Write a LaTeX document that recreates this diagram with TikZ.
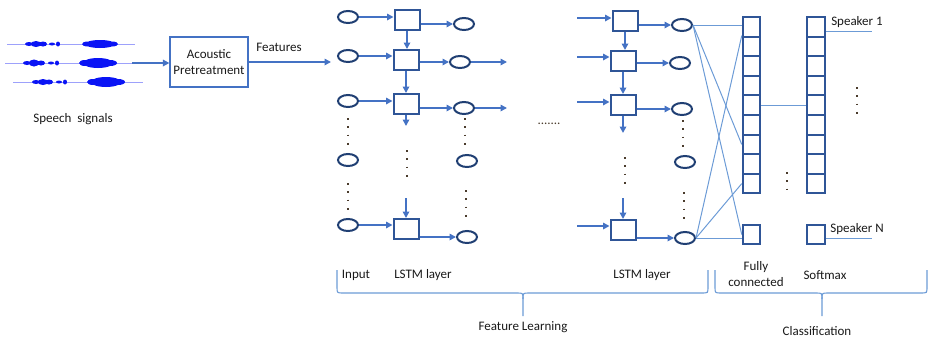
\documentclass[tikz,border=0pt]{standalone}
\usepackage{fontspec}
\setmainfont{Carlito}
\usepackage{tikz}
\usetikzlibrary{arrows.meta, shapes.geometric}

\definecolor{arrowblue}{HTML}{4472C4}
\definecolor{boxblue}{HTML}{2F5597}
\definecolor{ovalblue}{HTML}{203F73}
\definecolor{lineblue}{HTML}{6C9BD6}
\definecolor{wave}{HTML}{0A14F5}
\definecolor{dotbrown}{HTML}{4A3B2C}

\begin{document}
\begin{tikzpicture}[x=1pt, y=-1pt, font=\fontsize{13}{15.5}\selectfont, text=black!90,
        cell/.style={draw=boxblue, line width=2pt, minimum width=25pt, minimum height=20pt, inner sep=0pt},
        oval/.style={ellipse, draw=ovalblue, line width=2pt, minimum width=20pt, minimum height=12pt, inner sep=0pt},
        fc/.style={draw=boxblue, line width=2pt, minimum width=17.5pt, minimum height=19.6pt, inner sep=0pt},
        flow/.style={-{Triangle[length=6.5pt,width=6.5pt]}, arrowblue, line width=1.6pt},
        thinlink/.style={lineblue, line width=1pt},
        vdots/.style={dotbrown, line width=1.8pt, dash pattern=on 1.8pt off 6.5pt},
        bracket/.style={lineblue, line width=1.1pt}]
        \useasboundingbox (0,0) rectangle (929,338);

        \draw[wave!40, line width=0.8pt] (7,44) -- (135,44);
        \fill[wave] (29,44) ellipse (4 and 2) (36,44) ellipse (5 and 3) (43,44) ellipse (4 and 2.5);
        \fill[wave] (52,44) ellipse (3 and 1.5) (58,44) ellipse (2 and 2.5);
        \fill[wave] (100,44) ellipse (15 and 4) (88,44) ellipse (6 and 2.5) (112,44) ellipse (6 and 2.5);
        \draw[wave!40, line width=0.8pt] (5,63) -- (132,63);
        \fill[wave] (27,63) ellipse (4 and 2) (34,63) ellipse (5 and 3.5) (41,63) ellipse (4 and 2.5);
        \fill[wave] (51,63) ellipse (3 and 1.5) (57,63) ellipse (2 and 2.5);
        \fill[wave] (98,63) ellipse (15 and 5) (85,63) ellipse (6 and 3) (110,63) ellipse (7 and 3);
        \draw[wave!40, line width=0.8pt] (13,82) -- (143,82);
        \fill[wave] (36,82) ellipse (4 and 2) (43,82) ellipse (5 and 3) (49,82) ellipse (4 and 2.5);
        \fill[wave] (59,82) ellipse (3 and 1.5) (65,82) ellipse (2 and 2.5);
        \fill[wave] (106,82) ellipse (15 and 5) (93,82) ellipse (6 and 3) (118,82) ellipse (7 and 3);
        \node (speechlabel) at (73,119) {Speech\ \ signals};

        \coordinate (wavend) at (132,63);
        \node[draw=arrowblue, line width=1.5pt, minimum width=76pt, minimum height=50pt, align=center] (acoustic) at (209,62) {Acoustic\\Pretreatment};
        \draw[flow] (wavend) -- (wavend -| acoustic.west);
        \coordinate (featend) at (331,62);
        \draw[flow] (featend -| acoustic.east) -- (featend);
        \node (featlabel) at (279,47) {Features};

        \node[oval] (in1) at (348,17) {};
        \node[oval] (in2) at (348,56) {};
        \node[oval] (in3) at (348,101) {};
        \node[oval] (in4) at (348,160) {};
        \node[oval] (in5) at (348,225) {};
        \draw[vdots] (348,118) -- (348,146);
        \draw[vdots] (348,183) -- (348,211);

        \node[cell] (a1) at (407,20) {};
        \node[cell] (a2) at (406,60) {};
        \node[cell] (a3) at (406,104) {};
        \node[cell] (a4) at (406,229) {};
        \draw[flow] (in1) -- (in1 -| a1.west);
        \draw[flow] (in2) -- (in2 -| a2.west);
        \draw[flow] (in3) -- (in3 -| a3.west);
        \draw[flow] (in5) -- (in5 -| a4.west);
        \draw[flow] (a1) -- (a1 |- a2.north);
        \draw[flow] (a2) -- (a3);
        \coordinate (a3out) at (406,126);
        \draw[flow] (a3) -- (a3out);
        \draw[vdots] (407,150) -- (407,178);
        \coordinate (a4in) at (406,198);
        \draw[flow] (a4in) -- (a4);

        \node[oval] (o1) at (464,24) {};
        \node[oval] (o2) at (460,62) {};
        \node[oval] (o3) at (464,108) {};
        \node[oval] (o4) at (467,161) {};
        \node[oval] (o5) at (467,237) {};
        \draw[flow] (o1 -| a1.east) -- (o1);
        \draw[flow] (o2 -| a2.east) -- (o2);
        \draw[flow] (o3 -| a3.east) -- (o3);
        \draw[flow] (o5 -| a4.east) -- (o5);
        \coordinate (o2out) at (507,62);
        \coordinate (o3out) at (507,108);
        \draw[flow] (o2) -- (o2out);
        \draw[flow] (o3) -- (o3out);
        \draw[vdots] (465,118) -- (465,146);
        \draw[vdots] (466,190) -- (466,218);

        \node[anchor=base, text=dotbrown] (gap) at (549,124) {.......};

        \coordinate (c1in) at (577,18);
        \coordinate (c2in) at (577,57);
        \coordinate (c3in) at (577,102);
        \coordinate (c4in) at (577,226);
        \node[cell] (c1) at (625,21) {};
        \node[cell] (c2) at (623,61) {};
        \node[cell] (c3) at (623,105) {};
        \node[cell] (c4) at (623,230) {};
        \draw[flow] (c1in) -- (c1in -| c1.west);
        \draw[flow] (c2in) -- (c2in -| c2.west);
        \draw[flow] (c3in) -- (c3in -| c3.west);
        \draw[flow] (c4in) -- (c4in -| c4.west);
        \draw[flow] (c1) -- (c1 |- c2.north);
        \draw[flow] (c2) -- (c3);
        \coordinate (c3out) at (623,133);
        \draw[flow] (c3) -- (c3out);
        \draw[vdots] (625,157) -- (625,185);
        \coordinate (c4top) at (623,198);
        \draw[flow] (c4top) -- (c4);

        \node[oval] (p1) at (682,25) {};
        \node[oval] (p2) at (680,63) {};
        \node[oval] (p3) at (682,109) {};
        \node[oval] (p4) at (685,162) {};
        \node[oval] (p5) at (685,238) {};
        \draw[flow] (p1 -| c1.east) -- (p1);
        \draw[flow] (p2 -| c2.east) -- (p2);
        \draw[flow] (p3 -| c3.east) -- (p3);
        \draw[flow] (p5 -| c4.east) -- (p5);
        \draw[vdots] (683,120) -- (683,148);
        \draw[vdots] (684,192) -- (684,220);

        \node[fc] (f1) at (751.5,26.8) {};
        \node[fc] (f2) at (751.5,46.4) {};
        \node[fc] (f3) at (751.5,66.0) {};
        \node[fc] (f4) at (751.5,85.6) {};
        \node[fc] (f5) at (751.5,105.2) {};
        \node[fc] (f6) at (751.5,124.8) {};
        \node[fc] (f7) at (751.5,144.4) {};
        \node[fc] (f8) at (751.5,164.0) {};
        \node[fc] (f9) at (751.5,183.6) {};
        \node[fc] (fN) at (751.5,234.5) {};
        \draw[thinlink] (p1.east) -- (p1.east -| f1.west);
        \draw[thinlink] (p1.east) -- (f7.west);
        \draw[thinlink] (p1.east) -- (fN.west);
        \draw[thinlink] (p5.east) -- (p5.east -| fN.west);
        \draw[thinlink] (p5.east) -- (f2.north west);
        \draw[thinlink] (p5.east) -- (f9.west);
        \draw[vdots] (787,172) -- (787,192);

        \node[fc] (s1) at (816,26.8) {};
        \node[fc] (s2) at (816,46.4) {};
        \node[fc] (s3) at (816,66.0) {};
        \node[fc] (s4) at (816,85.6) {};
        \node[fc] (s5) at (816,105.2) {};
        \node[fc] (s6) at (816,124.8) {};
        \node[fc] (s7) at (816,144.4) {};
        \node[fc] (s8) at (816,164.0) {};
        \node[fc] (s9) at (816,183.6) {};
        \node[fc] (sN) at (816,234.5) {};
        \draw[thinlink] (f5.east) -- (s5.west);
        \coordinate (spk1) at (872,31);
        \coordinate (spkN) at (872,238);
        \draw[thinlink] (spk1 -| s1.east) -- (spk1);
        \draw[thinlink] (spkN -| sN.east) -- (spkN);
        \node (spk1label) at (857,22) {Speaker 1};
        \node (spkNlabel) at (857,229) {Speaker N};
        \draw[vdots] (857,87) -- (857,115);

        \node (inlabel) at (356,275) {Input};
        \node (lstmlabel) at (423,275) {LSTM layer};
        \node (lstmNlabel) at (642,275) {LSTM layer};
        \node[align=center] (fclabel) at (756,274) {Fully\\connected};
        \node (smlabel) at (825,275) {Softmax};

        \draw[bracket] (337,270) -- (337,287) .. controls (337,293) .. (343,293) -- (517,293) .. controls (523,293) .. (523,299) -- (523,316);
        \draw[bracket] (523,299) .. controls (523,293) .. (529,293) -- (702,293) .. controls (708,293) .. (708,287) -- (708,270);
        \node (learnlabel) at (523,327) {Feature Learning};

        \draw[bracket] (715,270) -- (715,287) .. controls (715,293) .. (721,293) -- (816,293) .. controls (822,293) .. (822,299) -- (822,316);
        \draw[bracket] (822,299) .. controls (822,293) .. (828,293) -- (921,293) .. controls (927,293) .. (927,287) -- (927,270);
        \node (classlabel) at (817,331) {Classification};
    \end{tikzpicture}
\end{document}
